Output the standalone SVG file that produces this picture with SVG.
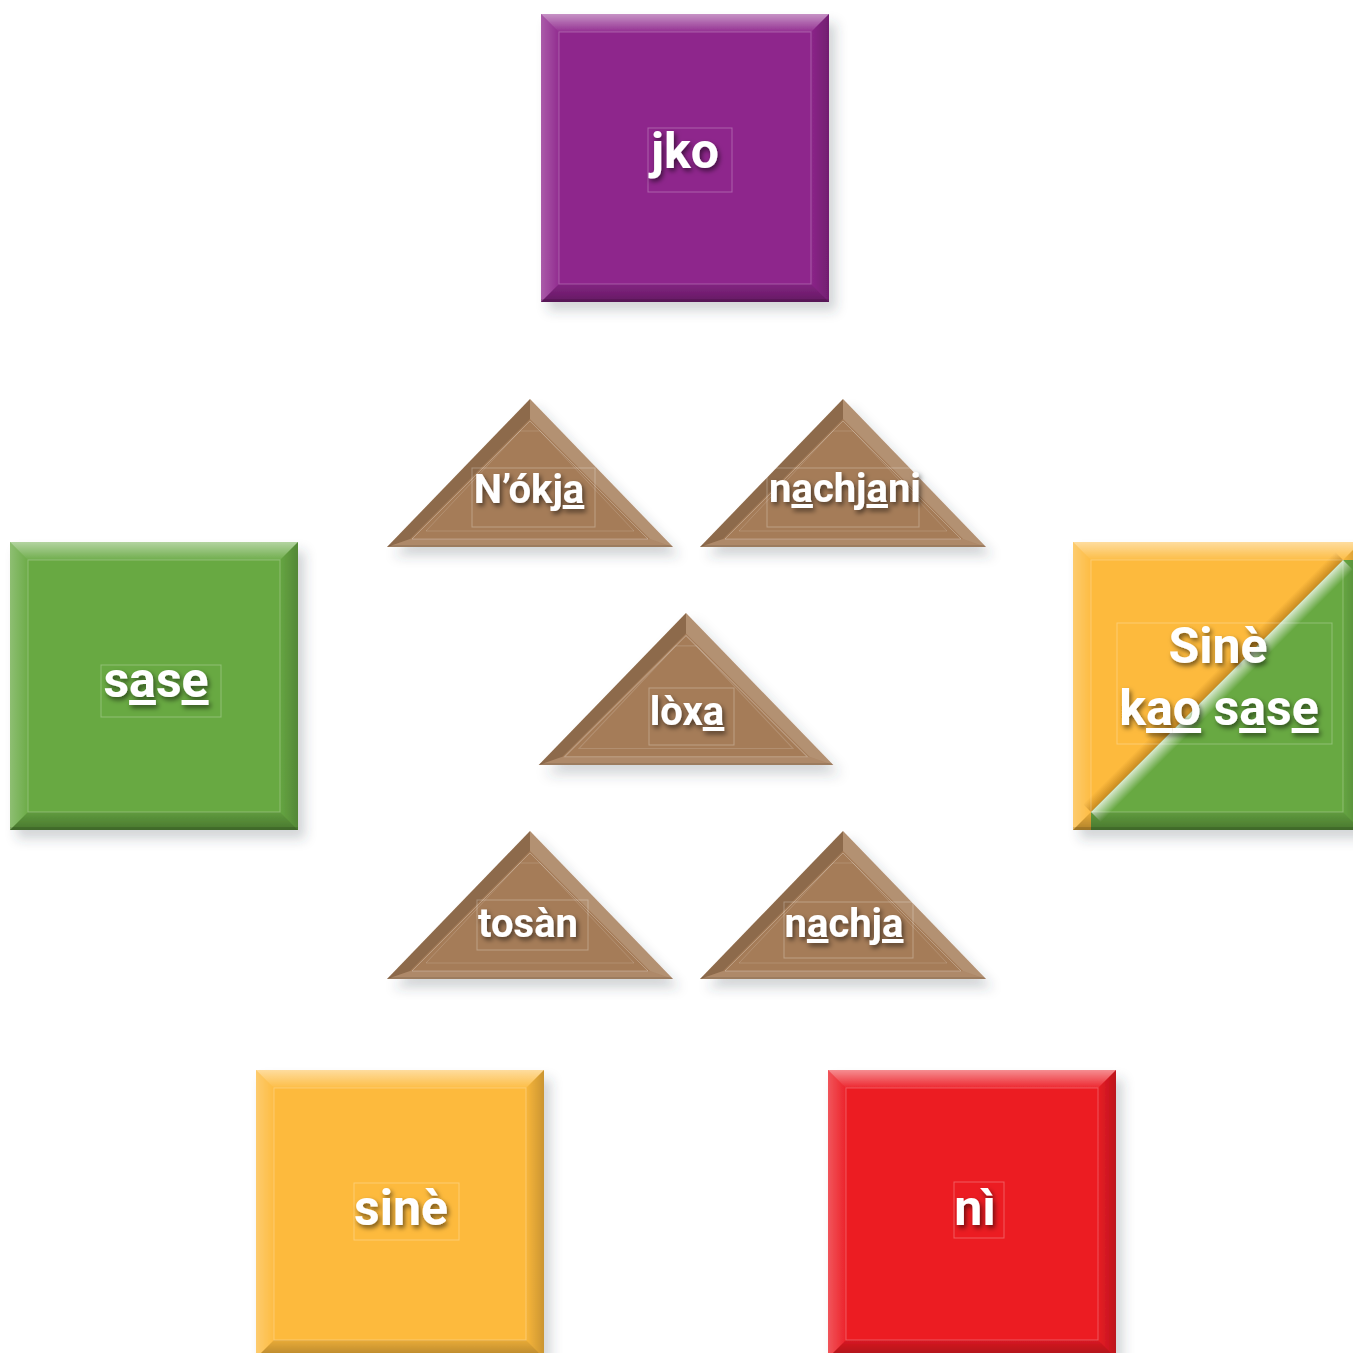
<svg xmlns="http://www.w3.org/2000/svg" width="1353" height="1353" viewBox="0 0 1353 1353">
<defs>
<style>
.lbl{font-family:Roboto,"Liberation Sans",sans-serif;font-weight:700;fill:#fff;text-anchor:middle;filter:url(#ts)}
.sq{font-size:50px}
.tri{font-size:40px}
.u{text-decoration:underline;text-decoration-thickness:3px;text-underline-offset:5px}
.tb{fill:none;stroke:#fff;stroke-opacity:0.28;stroke-width:1}
.inner{fill:none;stroke:#fff;stroke-opacity:0.25;stroke-width:1}
</style>
<filter id="ts" x="-20%" y="-30%" width="140%" height="160%">
<feDropShadow dx="2" dy="3" stdDeviation="2.5" flood-color="#000" flood-opacity="0.55"/>
</filter>
<filter id="ds" x="-10%" y="-10%" width="130%" height="130%">
<feDropShadow dx="7" dy="9" stdDeviation="6" flood-color="#3a4050" flood-opacity="0.22"/>
</filter>
<linearGradient id="gTop" x1="0" y1="0" x2="0" y2="1">
<stop offset="0" stop-color="#fff" stop-opacity="0.5"/>
<stop offset="1" stop-color="#fff" stop-opacity="0.05"/>
</linearGradient>
<linearGradient id="gLeft" x1="0" y1="0" x2="1" y2="0">
<stop offset="0" stop-color="#fff" stop-opacity="0.25"/>
<stop offset="1" stop-color="#fff" stop-opacity="0.03"/>
</linearGradient>
<linearGradient id="gRight" x1="0" y1="0" x2="1" y2="0">
<stop offset="0" stop-color="#000" stop-opacity="0.02"/>
<stop offset="1" stop-color="#000" stop-opacity="0.2"/>
</linearGradient>
<linearGradient id="gBot" x1="0" y1="0" x2="0" y2="1">
<stop offset="0" stop-color="#000" stop-opacity="0.08"/>
<stop offset="1" stop-color="#000" stop-opacity="0.3"/>
</linearGradient>
<linearGradient id="gDiagL" gradientUnits="userSpaceOnUse" x1="144" y1="144" x2="154" y2="154">
<stop offset="0" stop-color="#fff" stop-opacity="0.75"/>
<stop offset="1" stop-color="#fff" stop-opacity="0"/>
</linearGradient>
<linearGradient id="gDiagD" gradientUnits="userSpaceOnUse" x1="144" y1="144" x2="136" y2="136">
<stop offset="0" stop-color="#8a5200" stop-opacity="0.45"/>
<stop offset="1" stop-color="#8a5200" stop-opacity="0"/>
</linearGradient>
<g id="bevel">
<polygon points="0,0 288,0 270,18 18,18" fill="url(#gTop)"/>
<polygon points="0,0 18,18 18,270 0,288" fill="url(#gLeft)"/>
<polygon points="288,0 288,288 270,270 270,18" fill="url(#gRight)"/>
<polygon points="0,288 288,288 270,270 18,270" fill="url(#gBot)"/>
<rect x="0" y="285" width="288" height="3" fill="#000" fill-opacity="0.12"/>
<rect x="18" y="18" width="252" height="252" class="inner"/>
</g>
<g id="tribevel">
<polygon points="0,0 -143,148 -120,140 0,20" fill="#000" fill-opacity="0.14"/>
<polygon points="0,0 143,148 120,140 0,20" fill="#fff" fill-opacity="0.16"/>
<polygon points="-143,148 143,148 120,140 -120,140" fill="#fff" fill-opacity="0.1"/>
<polygon points="-143,148 143,148 141,146 -141,146" fill="#000" fill-opacity="0.1"/>
<polygon points="0,22 -118,140 118,140" class="inner"/>
<polygon points="-10,32 -104,132 104,132 10,32" fill="none" stroke="#fff" stroke-opacity="0.15"/>
</g>
<polygon id="trishape" points="0,0 143,148 -143,148"/>
</defs>

<g id="node-jko">
<g transform="translate(541,14)" filter="url(#ds)">
<rect width="288" height="288" fill="#8E268C"/>
<use href="#bevel"/>
</g>
<rect x="648" y="128" width="84" height="64" class="tb"/>
<text x="685" y="168" class="lbl sq">jko</text>
</g>

<g id="node-sase">
<g transform="translate(10,542)" filter="url(#ds)">
<rect width="288" height="288" fill="#68A943"/>
<use href="#bevel"/>
</g>
<rect x="101" y="665" width="120" height="52" class="tb"/>
<text x="156" y="697" class="lbl sq">s<tspan class="u">a</tspan>s<tspan class="u">e</tspan></text>
</g>

<g id="node-sine-kao-sase">
<g transform="translate(1073,542)" filter="url(#ds)">
<rect width="288" height="288" fill="#FDBA3D"/>
<polygon points="18,270 270,18 288,18 288,288 18,288" fill="#68A943"/>
<polygon points="18,270 270,18 284,32 32,284" fill="url(#gDiagL)"/>
<polygon points="18,270 270,18 260,8 8,260" fill="url(#gDiagD)"/>
<use href="#bevel"/>
</g>
<rect x="1117" y="623" width="215" height="121" class="tb"/>
<text x="1218" y="663" class="lbl sq">Sinè</text>
<text x="1219" y="725" class="lbl sq">k<tspan class="u">a</tspan><tspan class="u">o</tspan> s<tspan class="u">a</tspan>s<tspan class="u">e</tspan></text>
</g>

<g id="node-sine">
<g transform="translate(256,1070)" filter="url(#ds)">
<rect width="288" height="288" fill="#FDBA3D"/>
<use href="#bevel"/>
</g>
<rect x="354" y="1183" width="105" height="57" class="tb"/>
<text x="401" y="1225" class="lbl sq">sinè</text>
</g>

<g id="node-ni">
<g transform="translate(828,1070)" filter="url(#ds)">
<rect width="288" height="288" fill="#EC1C24"/>
<use href="#bevel"/>
</g>
<rect x="954" y="1182" width="50" height="56" class="tb"/>
<text x="975" y="1225" class="lbl sq">nì</text>
</g>

<g id="node-nokja">
<g transform="translate(530,399)" filter="url(#ds)">
<use href="#trishape" fill="#A57C58"/>
<use href="#tribevel"/>
</g>
<rect x="472" y="468" width="123" height="59" class="tb"/>
<text x="529" y="503" class="lbl tri">N’ókj<tspan class="u">a</tspan></text>
</g>

<g id="node-nachjani">
<g transform="translate(843,399)" filter="url(#ds)">
<use href="#trishape" fill="#A57C58"/>
<use href="#tribevel"/>
</g>
<rect x="767" y="468" width="152" height="59" class="tb"/>
<text x="845" y="502" class="lbl tri">n<tspan class="u">a</tspan>chj<tspan class="u">a</tspan>ni</text>
</g>

<g id="node-loxa">
<g transform="translate(686,613) scale(1.03,1.027)" filter="url(#ds)">
<use href="#trishape" fill="#A57C58"/>
<use href="#tribevel"/>
</g>
<rect x="649" y="688" width="85" height="57" class="tb"/>
<text x="687" y="725" class="lbl tri">lòx<tspan class="u">a</tspan></text>
</g>

<g id="node-tosan">
<g transform="translate(530,831)" filter="url(#ds)">
<use href="#trishape" fill="#A57C58"/>
<use href="#tribevel"/>
</g>
<rect x="477" y="900" width="111" height="50" class="tb"/>
<text x="528" y="937" class="lbl tri">tosàn</text>
</g>

<g id="node-nachja">
<g transform="translate(843,831)" filter="url(#ds)">
<use href="#trishape" fill="#A57C58"/>
<use href="#tribevel"/>
</g>
<rect x="784" y="902" width="129" height="56" class="tb"/>
<text x="844" y="937" class="lbl tri">n<tspan class="u">a</tspan>chj<tspan class="u">a</tspan></text>
</g>

<g id="connectors"></g>
</svg>
